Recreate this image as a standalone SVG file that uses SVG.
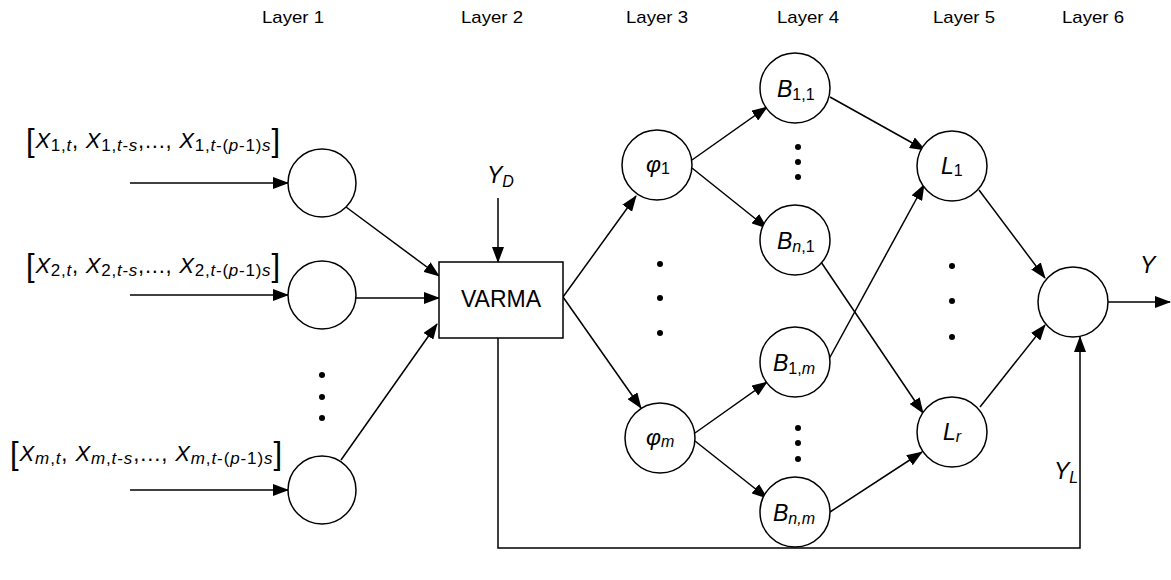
<svg xmlns="http://www.w3.org/2000/svg" width="1171" height="580" viewBox="0 0 1171 580">
<defs>
<marker id="ah" markerWidth="16" markerHeight="12" refX="15" refY="6" orient="auto" markerUnits="userSpaceOnUse">
<path d="M0,0 L16,6 L0,12 Z" fill="#000"/>
</marker>
<style>
.n{fill:#fff;stroke:#000;stroke-width:1.5}
.c{stroke:#000;stroke-width:1.5;fill:none}
.a{stroke:#000;stroke-width:1.5;fill:none;marker-end:url(#ah)}
.t{font-family:"Liberation Sans",Arial,sans-serif;fill:#000}
.ly{font-size:17px}
.v{font-size:23px;font-style:italic}
.s{font-size:16px}
.d{fill:#000}
</style>
</defs>
<rect width="1171" height="580" fill="#fff"/>
<g id="layer-labels" class="t ly" text-anchor="middle">
<text x="293" y="23" textLength="62" lengthAdjust="spacingAndGlyphs">Layer 1</text>
<text x="492" y="23" textLength="62" lengthAdjust="spacingAndGlyphs">Layer 2</text>
<text x="657" y="23" textLength="62" lengthAdjust="spacingAndGlyphs">Layer 3</text>
<text x="808" y="23" textLength="62" lengthAdjust="spacingAndGlyphs">Layer 4</text>
<text x="964" y="23" textLength="62" lengthAdjust="spacingAndGlyphs">Layer 5</text>
<text x="1093" y="23" textLength="62" lengthAdjust="spacingAndGlyphs">Layer 6</text>
</g>
<g id="input-labels" class="t">
<text x="26" y="148" font-size="22" textLength="254" lengthAdjust="spacing"><tspan font-size="31" dy="3">[</tspan><tspan font-style="italic" dy="-3">X</tspan><tspan font-size="17" dy="3">1,<tspan font-style="italic">t</tspan></tspan><tspan dy="-3">, </tspan><tspan font-style="italic">X</tspan><tspan font-size="17" dy="3">1,<tspan font-style="italic">t</tspan>-<tspan font-style="italic">s</tspan></tspan><tspan dy="-3">,..., </tspan><tspan font-style="italic">X</tspan><tspan font-size="17" dy="3">1,<tspan font-style="italic">t</tspan>-(<tspan font-style="italic">p</tspan>-1)<tspan font-style="italic">s</tspan></tspan><tspan font-size="31">]</tspan></text>
<text x="26" y="273" font-size="22" textLength="254" lengthAdjust="spacing"><tspan font-size="31" dy="3">[</tspan><tspan font-style="italic" dy="-3">X</tspan><tspan font-size="17" dy="3">2,<tspan font-style="italic">t</tspan></tspan><tspan dy="-3">, </tspan><tspan font-style="italic">X</tspan><tspan font-size="17" dy="3">2,<tspan font-style="italic">t</tspan>-<tspan font-style="italic">s</tspan></tspan><tspan dy="-3">,..., </tspan><tspan font-style="italic">X</tspan><tspan font-size="17" dy="3">2,<tspan font-style="italic">t</tspan>-(<tspan font-style="italic">p</tspan>-1)<tspan font-style="italic">s</tspan></tspan><tspan font-size="31">]</tspan></text>
<text x="10" y="461" font-size="22" textLength="272" lengthAdjust="spacing"><tspan font-size="31" dy="3">[</tspan><tspan font-style="italic" dy="-3">X</tspan><tspan font-size="17" dy="3"><tspan font-style="italic">m</tspan>,<tspan font-style="italic">t</tspan></tspan><tspan dy="-3">, </tspan><tspan font-style="italic">X</tspan><tspan font-size="17" dy="3"><tspan font-style="italic">m</tspan>,<tspan font-style="italic">t</tspan>-<tspan font-style="italic">s</tspan></tspan><tspan dy="-3">,..., </tspan><tspan font-style="italic">X</tspan><tspan font-size="17" dy="3"><tspan font-style="italic">m</tspan>,<tspan font-style="italic">t</tspan>-(<tspan font-style="italic">p</tspan>-1)<tspan font-style="italic">s</tspan></tspan><tspan font-size="31">]</tspan></text>
</g>
<g id="connectors">
<line class="a" x1="130" y1="183" x2="288" y2="183"/>
<line class="a" x1="130" y1="295" x2="288" y2="295"/>
<line class="a" x1="130" y1="490" x2="288" y2="490"/>
<line class="a" x1="346" y1="207" x2="439" y2="276"/>
<line class="a" x1="356" y1="298" x2="439" y2="298"/>
<line class="a" x1="341" y1="460" x2="437" y2="324"/>
<line class="a" x1="498" y1="198" x2="498" y2="262"/>
<line class="a" x1="563" y1="297" x2="636" y2="196"/>
<line class="a" x1="563" y1="297" x2="641" y2="408"/>
<line class="a" x1="692" y1="160" x2="767" y2="107"/>
<line class="a" x1="692" y1="168" x2="767" y2="228"/>
<line class="a" x1="695" y1="433" x2="767" y2="382"/>
<line class="a" x1="695" y1="441" x2="767" y2="498"/>
<line class="a" x1="830" y1="97" x2="925" y2="150"/>
<line class="a" x1="821" y1="262" x2="923" y2="413"/>
<line class="a" x1="829" y1="359" x2="924" y2="185"/>
<line class="a" x1="830" y1="512" x2="922" y2="452"/>
<line class="a" x1="979" y1="190" x2="1045" y2="278"/>
<line class="a" x1="980" y1="407" x2="1045" y2="325"/>
<line class="a" x1="1108" y1="302" x2="1170" y2="302"/>
<polyline class="a" points="498,337 498,548 1080,548 1080,337"/>
</g>
<g id="dots">
<circle class="d" cx="322" cy="375" r="3"/><circle class="d" cx="322" cy="397" r="3"/><circle class="d" cx="322" cy="418" r="3"/>
<circle class="d" cx="660" cy="264" r="3"/><circle class="d" cx="660" cy="298" r="3"/><circle class="d" cx="660" cy="333" r="3"/>
<circle class="d" cx="798" cy="147" r="3"/><circle class="d" cx="798" cy="162" r="3"/><circle class="d" cx="798" cy="177" r="3"/>
<circle class="d" cx="798" cy="428" r="3"/><circle class="d" cx="798" cy="443" r="3"/><circle class="d" cx="798" cy="459" r="3"/>
<circle class="d" cx="952" cy="266" r="3"/><circle class="d" cx="952" cy="301" r="3"/><circle class="d" cx="952" cy="337" r="3"/>
</g>
<g id="in1"><circle class="n" cx="322" cy="183" r="34"/></g>
<g id="in2"><circle class="n" cx="322" cy="295" r="34"/></g>
<g id="in3"><circle class="n" cx="322" cy="490" r="34"/></g>
<g id="varma"><rect class="n" x="439" y="262" width="124" height="76"/><text class="t" x="501" y="307" font-size="23" text-anchor="middle">VARMA</text></g>
<g id="yd"><text class="t v" x="487" y="183">Y<tspan class="s" dy="4">D</tspan></text></g>
<g id="phi1"><circle class="n" cx="657" cy="165" r="35"/><text class="t v" x="646" y="172">φ<tspan class="s" font-style="normal" dy="2">1</tspan></text></g>
<g id="phim"><circle class="n" cx="660" cy="438" r="35"/><text class="t v" x="646" y="445">φ<tspan class="s" dy="2">m</tspan></text></g>
<g id="b11"><circle class="n" cx="795" cy="88" r="35"/><text class="t v" x="777" y="97">B<tspan class="s" font-style="normal" dy="3">1,1</tspan></text></g>
<g id="bn1"><circle class="n" cx="795" cy="240" r="35"/><text class="t v" x="777" y="249">B<tspan class="s" dy="3"><tspan font-style="italic">n</tspan><tspan font-style="normal">,1</tspan></tspan></text></g>
<g id="b1m"><circle class="n" cx="795" cy="362" r="35"/><text class="t v" x="773" y="371">B<tspan class="s" dy="3"><tspan font-style="normal">1,</tspan>m</tspan></text></g>
<g id="bnm"><circle class="n" cx="795" cy="512" r="35"/><text class="t v" x="773" y="521">B<tspan class="s" dy="3">n,m</tspan></text></g>
<g id="l1"><circle class="n" cx="952" cy="166" r="35"/><text class="t v" x="941" y="174">L<tspan class="s" font-style="normal" dy="2">1</tspan></text></g>
<g id="lr"><circle class="n" cx="952" cy="432" r="35"/><text class="t v" x="943" y="440">L<tspan class="s" dy="2">r</tspan></text></g>
<g id="out"><circle class="n" cx="1073" cy="302" r="35"/></g>
<g id="ylabel"><text class="t v" x="1140" y="273">Y</text></g>
<g id="yl"><text class="t v" x="1054" y="479">Y<tspan class="s" dy="4">L</tspan></text></g>
</svg>
